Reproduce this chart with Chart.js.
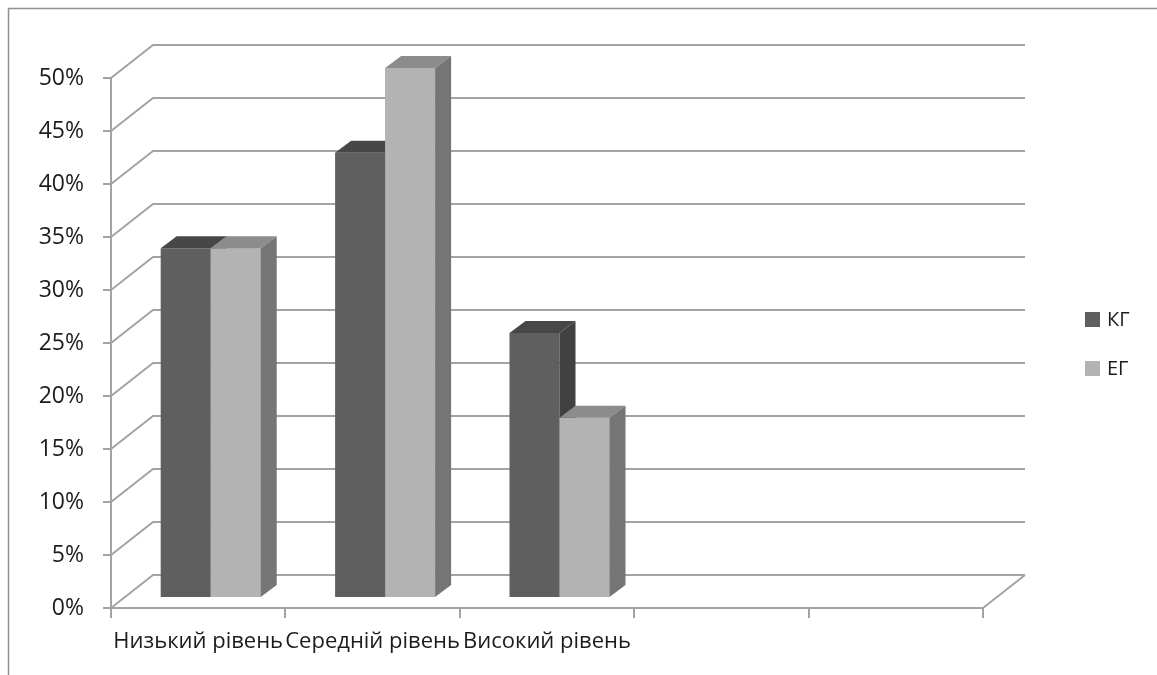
<!DOCTYPE html>
<html lang="uk">
<head>
<meta charset="utf-8">
<title>Рівні: КГ та ЕГ</title>
<script src="https://cdn.jsdelivr.net/npm/chart.js@4/dist/chart.umd.min.js"></script>
<style>
  html, body { margin: 0; padding: 0; background: #ffffff; }
  #wrap { width: 1157px; height: 675px; }
</style>
</head>
<body>
<div id="wrap"><canvas id="chart" width="1157" height="675"></canvas></div>
<script>
// Categories (the last two slots are empty columns of the sheet)
const categories = ['Низький рівень', 'Середній рівень', 'Високий рівень', '', ''];

// Series values, %
const seriesKG = [33, 42, 25, null, null];
const seriesEG = [33, 50, 17, null, null];

// Series names
const seriesNames = ['КГ', 'ЕГ'];

// Value axis tick labels
const yTickLabels = ['0%', '5%', '10%', '15%', '20%', '25%', '30%', '35%', '40%', '45%', '50%'];

// Colours of each series: front, top, side
const palette = [
  { front: '#5f5f5f', top: '#474747', side: '#414141' },
  { front: '#b3b3b3', top: '#8c8c8c', side: '#757575' }
];

// Oblique 3D geometry (pixels)
const WALL = { dx: 42, dy: 33 };        // depth of the back wall
const BAR_SHIFT = { dx: 12.5, dy: 10 }; // bar fronts sit a little behind the front plane
const BAR_DEPTH = { dx: 16, dy: 12 };   // depth of each column
const LINE_COLOR = '#a3a3a3';
const TEXT_COLOR = '#1c1c1c';

Chart.defaults.font.family = "'Open Sans', 'Noto Sans', sans-serif";
Chart.defaults.color = TEXT_COLOR;

function facePath(ctx, pts, fill) {
  ctx.beginPath();
  ctx.moveTo(pts[0][0], pts[0][1]);
  for (let i = 1; i < pts.length; i++) ctx.lineTo(pts[i][0], pts[i][1]);
  ctx.closePath();
  ctx.fillStyle = fill;
  ctx.fill();
}

const frame3d = {
  id: 'frame3d',
  beforeDraw(chart) {
    const ctx = chart.ctx;
    ctx.save();
    ctx.strokeStyle = '#8f8f8f';
    ctx.lineWidth = 1.5;
    ctx.beginPath();
    ctx.moveTo(8.5, chart.height);
    ctx.lineTo(8.5, 8.5);
    ctx.lineTo(chart.width, 8.5);
    ctx.stroke();
    ctx.restore();
  },
  beforeDatasetsDraw(chart) {
    const ctx = chart.ctx;
    const xs = chart.scales.x, ys = chart.scales.y;
    const left = xs.left, right = xs.right, bottom = ys.bottom;
    ctx.save();
    ctx.strokeStyle = LINE_COLOR;
    ctx.lineWidth = 2;
    ctx.lineCap = 'butt';
    // back-wall gridlines and side-wall diagonals
    ys.ticks.forEach(t => {
      const y = ys.getPixelForValue(t.value);
      ctx.beginPath();
      ctx.moveTo(left, y);
      ctx.lineTo(left + WALL.dx, y - WALL.dy);
      ctx.lineTo(right + WALL.dx, y - WALL.dy);
      ctx.stroke();
    });
    // floor right edge
    ctx.beginPath();
    ctx.moveTo(right, bottom);
    ctx.lineTo(right + WALL.dx, bottom - WALL.dy);
    ctx.stroke();
    ctx.restore();

    // columns are drawn set back from the front plane
    ctx.save();
    ctx.translate(BAR_SHIFT.dx, -BAR_SHIFT.dy);
  },
  afterDatasetsDraw(chart) {
    const ctx = chart.ctx;
    const metas = [chart.getDatasetMeta(0), chart.getDatasetMeta(1)];
    const n = chart.data.labels.length;
    for (let i = 0; i < n; i++) {
      metas.forEach((meta, d) => {
        const el = meta.data[i];
        const v = chart.data.datasets[d].data[i];
        if (!el || v === null || v === undefined) return;
        const p = el.getProps(['x', 'y', 'base', 'width'], true);
        const l = p.x - p.width / 2, r = p.x + p.width / 2;
        const dx = BAR_DEPTH.dx, dy = BAR_DEPTH.dy;
        if (d > 0) el.draw(ctx); // keep the right column's front above the left one's side
        facePath(ctx, [[l, p.y], [r, p.y], [r + dx, p.y - dy], [l + dx, p.y - dy]], palette[d].top);
        facePath(ctx, [[r, p.y], [r + dx, p.y - dy], [r + dx, p.base - dy], [r, p.base]], palette[d].side);
      });
    }
    ctx.restore();
  },
  afterDraw(chart) {
    // legend on the right
    const ctx = chart.ctx;
    const items = chart.data.datasets;
    ctx.save();
    ctx.font = "20px 'Open Sans', 'Noto Sans', sans-serif";
    ctx.textBaseline = 'middle';
    ctx.textAlign = 'left';
    items.forEach((ds, k) => {
      const cy = 319.5 + k * 49;
      ctx.fillStyle = ds.backgroundColor;
      ctx.fillRect(1085, cy - 7.5, 15, 15);
      ctx.fillStyle = TEXT_COLOR;
      ctx.fillText(ds.label, 1107, cy + 1);
    });
    ctx.restore();
  }
};

new Chart(document.getElementById('chart'), {
  type: 'bar',
  data: {
    labels: categories,
    datasets: [
      { label: seriesNames[0], data: seriesKG, backgroundColor: palette[0].front, borderWidth: 0, clip: false },
      { label: seriesNames[1], data: seriesEG, backgroundColor: palette[1].front, borderWidth: 0, clip: false }
    ]
  },
  options: {
    responsive: false,
    animation: false,
    events: [],
    categoryPercentage: 0.5734,
    barPercentage: 1,
    layout: { padding: { top: 78, right: 174, bottom: 0, left: 0 } },
    plugins: {
      legend: { display: false },
      tooltip: { enabled: false },
      title: { display: false }
    },
    scales: {
      x: {
        offset: true,
        grid: { offset: true, drawOnChartArea: false, drawTicks: true, tickLength: 10, color: LINE_COLOR, lineWidth: 2 },
        border: { display: true, color: LINE_COLOR, width: 2 },
        ticks: { autoSkip: false, maxRotation: 0, minRotation: 0, padding: 11, color: TEXT_COLOR, font: { size: 22 } },
        afterFit(scale) { scale.height = 67; }
      },
      y: {
        min: 0,
        max: 50,
        grid: { drawOnChartArea: false, drawTicks: true, tickLength: 8, color: LINE_COLOR, lineWidth: 2 },
        border: { display: true, color: LINE_COLOR, width: 2 },
        ticks: {
          stepSize: 5,
          padding: 19,
          color: TEXT_COLOR,
          font: { size: 23 },
          callback: (v, i) => yTickLabels[i]
        },
        afterFit(scale) { scale.width = 111; }
      }
    }
  },
  plugins: [frame3d]
});
</script>
</body>
</html>
